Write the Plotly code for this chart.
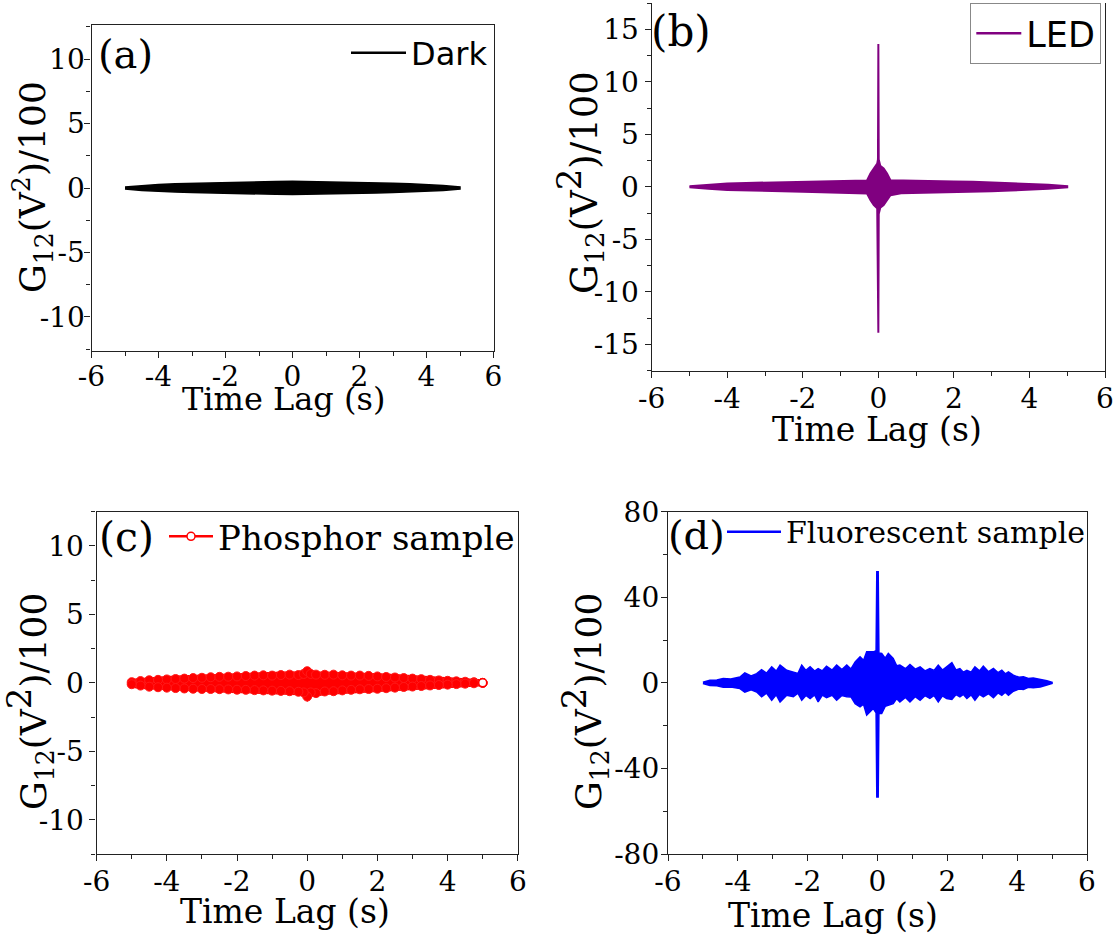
import plotly.graph_objects as go

W, H = 1116, 938

# ---------------- data ----------------
# (a) Dark : envelope of the correlation signal
time_a = [-5, -4.5, -4, -3.5, -3, -2.5, -2, -1.5, -1, -0.5, 0, 0.5, 1, 1.5, 2, 2.5, 3, 3.5, 4, 4.5, 5]
dark_upper = [0.08, 0.2, 0.27, 0.32, 0.36, 0.39, 0.42, 0.45, 0.48, 0.5, 0.52, 0.5, 0.48, 0.45, 0.42, 0.39, 0.36, 0.32, 0.27, 0.2, 0.08]
dark_lower = [-0.08, -0.19, -0.26, -0.31, -0.35, -0.38, -0.41, -0.44, -0.47, -0.49, -0.51, -0.49, -0.47, -0.44, -0.41, -0.38, -0.35, -0.31, -0.26, -0.19, -0.08]

# (b) LED
time_b = [-5, -4.5, -4, -3.5, -3, -2.5, -2, -1.5, -1, -0.6, -0.3, -0.21, -0.12, -0.03, -0.01, 0, 0.01, 0.05, 0.14, 0.23, 0.32, 0.6, 1, 1.5, 2, 2.5, 3, 3.5, 4, 4.5, 5]
led_upper = [0.05, 0.2, 0.3, 0.36, 0.4, 0.45, 0.48, 0.5, 0.55, 0.58, 0.6, 1.27, 1.75, 2.2, 2.6, 13.6, 2.6, 2.0, 1.75, 1.27, 0.63, 0.6, 0.58, 0.55, 0.5, 0.48, 0.42, 0.38, 0.3, 0.2, 0.05]
led_lower = [-0.05, -0.2, -0.3, -0.36, -0.4, -0.45, -0.48, -0.52, -0.55, -0.6, -0.65, -1.27, -1.74, -2.06, -2.6, -13.9, -2.6, -2.0, -1.74, -1.27, -0.8, -0.62, -0.58, -0.55, -0.5, -0.46, -0.42, -0.36, -0.3, -0.2, -0.05]

# (c) Phosphor sample (edge points of the scatter cloud)
time_c = [-5, -4.75, -4.5, -4.25, -4, -3.75, -3.5, -3.25, -3, -2.75, -2.5, -2.25, -2, -1.75, -1.5, -1.25, -1, -0.75, -0.5, -0.25, -0.1, 0,
          0.1, 0.25, 0.5, 0.75, 1, 1.25, 1.5, 1.75, 2, 2.25, 2.5, 2.75, 3, 3.25, 3.5, 3.75, 4, 4.25, 4.5, 4.75, 5]
phos_upper = [0.05, 0.13, 0.19, 0.22, 0.25, 0.28, 0.31, 0.35, 0.37, 0.41, 0.44, 0.45, 0.47, 0.5, 0.53, 0.55, 0.53, 0.57, 0.6, 0.57, 0.65, 0.85,
              0.65, 0.6, 0.59, 0.6, 0.55, 0.53, 0.53, 0.51, 0.47, 0.43, 0.39, 0.35, 0.31, 0.27, 0.22, 0.18, 0.15, 0.11, 0.08, 0.05, 0.0]
phos_lower = [-0.1, -0.2, -0.28, -0.32, -0.35, -0.38, -0.41, -0.43, -0.45, -0.45, -0.46, -0.48, -0.5, -0.51, -0.53, -0.55, -0.57, -0.59, -0.61, -0.65, -0.7, -1.0,
              -0.7, -0.75, -0.63, -0.61, -0.55, -0.51, -0.47, -0.45, -0.43, -0.39, -0.35, -0.3, -0.27, -0.23, -0.19, -0.16, -0.13, -0.09, -0.06, -0.03, 0.0]

# (d) Fluorescent sample
time_d = [-5.0, -4.8, -4.6, -4.42, -4.2, -3.94, -3.8, -3.62, -3.46, -3.32, -3.18, -3.03, -2.9, -2.79, -2.6, -2.41, -2.28, -2.17, -2.05, -1.93,
          -1.8, -1.7, -1.58, -1.46, -1.3, -1.17, -1.02, -0.88, -0.76, -0.64, -0.5, -0.4, -0.31, -0.12, -0.04, -0.02, 0.02, 0.04, 0.12, 0.22,
          0.31, 0.45, 0.55, 0.64, 0.8, 0.93, 1.08, 1.22, 1.36, 1.5, 1.62, 1.74, 1.86, 1.98, 2.13, 2.25, 2.36, 2.46, 2.56, 2.68,
          2.79, 2.92, 3.03, 3.18, 3.32, 3.45, 3.56, 3.66, 3.75, 3.89, 4.05, 4.18, 4.32, 4.46, 4.66, 4.85, 5.0]
fluo_upper = [0.3, 1.2, 1.3, 2.0, 1.8, 2.7, 4.7, 3.2, 4.3, 6.2, 4.5, 7.5, 5.5, 8.3, 5.9, 5.1, 4.4, 8.3, 5.8, 7.5,
              5.5, 6.7, 5.6, 7.8, 6.0, 8.3, 6.2, 8.3, 6.5, 9.8, 12.2, 10.5, 14.5, 14.5, 15.0, 51.9, 51.9, 14.0, 13.7, 11.5,
              13.7, 11.4, 8.0, 8.3, 6.6, 8.6, 6.4, 7.5, 5.6, 6.7, 5.8, 8.3, 6.0, 7.5, 9.4, 6.0, 6.7, 5.0, 5.9, 5.0,
              7.5, 5.6, 7.8, 5.2, 6.7, 4.8, 5.9, 4.2, 5.1, 3.6, 2.6, 2.8, 2.0, 2.3, 1.7, 1.0, 0.3]
fluo_lower = [-0.3, -1.2, -1.4, -2.0, -1.9, -2.7, -4.3, -3.3, -4.3, -6.5, -4.8, -8.1, -5.6, -8.9, -5.8, -6.5, -4.8, -8.1, -5.9, -7.3,
              -5.6, -8.9, -5.7, -6.9, -5.8, -8.1, -5.9, -6.5, -6.6, -9.7, -11.2, -10.0, -15.1, -12.0, -14.0, -53.3, -53.3, -14.3, -14.3, -11.0,
              -10.4, -9.7, -7.4, -8.9, -6.8, -8.9, -6.5, -8.1, -6.0, -7.3, -5.9, -8.9, -6.1, -7.3, -7.8, -5.5, -6.5, -5.4, -7.3, -5.6,
              -8.1, -5.4, -6.5, -5.0, -6.9, -4.7, -5.8, -4.4, -5.8, -3.9, -2.9, -3.1, -2.1, -2.3, -1.9, -1.0, -0.3]

# tick labels
x_tick_vals = [-6, -4, -2, 0, 2, 4, 6]
x_tick_text = ['-6', '-4', '-2', '0', '2', '4', '6']
y_tick_vals_ac = [-10, -5, 0, 5, 10]
y_tick_text_ac = ['-10', '-5', '0', '5', '10']
y_tick_vals_b = [-15, -10, -5, 0, 5, 10, 15]
y_tick_text_b = ['-15', '-10', '-5', '0', '5', '10', '15']
y_tick_vals_d = [-80, -40, 0, 40, 80]
y_tick_text_d = ['-80', '-40', '0', '40', '80']

series_names = ['Dark', 'LED', 'Phosphor sample', 'Fluorescent sample']
panel_labels = ['(a)', '(b)', '(c)', '(d)']

# ---------------- layout geometry (pixels) ----------------
frames = {  # left, right, top, bottom
    'a': (91.5, 493.5, 25, 351),
    'b': (651.7, 1105, 3, 370.5),
    'c': (96.6, 517.8, 511.7, 854),
    'd': (668, 1087, 511.7, 854),
}


def dx(l, r):
    return [l / W, r / W]


def dy(t, b):
    return [1 - b / H, 1 - t / H]


def px(x):
    return x / W


def py(y):
    return 1 - y / H


AX = '#222222'
SERIF = 'DejaVu Serif'
SANS = 'DejaVu Sans'
TICK_SIZE = 28


def band(x, up, lo):
    return list(x) + list(x)[::-1], list(up) + list(lo)[::-1]


fig = go.Figure()

# (a)
bx, by = band(time_a, dark_upper, dark_lower)
fig.add_trace(go.Scatter(x=bx, y=by, mode='lines', fill='toself', fillcolor='black',
                         line=dict(color='black', width=1.5), xaxis='x', yaxis='y',
                         showlegend=False, hoverinfo='skip'))
fig.add_trace(go.Scatter(x=[None], y=[None], mode='lines', name=series_names[0],
                         line=dict(color='black', width=2.5), xaxis='x', yaxis='y', legend='legend'))

# (b)
bx, by = band(time_b, led_upper, led_lower)
fig.add_trace(go.Scatter(x=bx, y=by, mode='lines', fill='toself', fillcolor='#800080',
                         line=dict(color='#800080', width=2), xaxis='x2', yaxis='y2',
                         showlegend=False, hoverinfo='skip'))
fig.add_trace(go.Scatter(x=[None], y=[None], mode='lines', name=series_names[1],
                         line=dict(color='#800080', width=2.5), xaxis='x2', yaxis='y2', legend='legend2'))

# (c)
bx, by = band(time_c, phos_upper, phos_lower)
fig.add_trace(go.Scatter(x=bx, y=by, mode='lines+markers', fill='toself', fillcolor='#FF0000',
                         line=dict(color='#FF0000', width=7),
                         marker=dict(symbol='circle', size=9, color='#FF0000', line=dict(color='#FF1a1a', width=1)),
                         xaxis='x3', yaxis='y3', showlegend=False, hoverinfo='skip'))
fig.add_trace(go.Scatter(x=[time_c[-1]], y=[phos_upper[-1]], mode='markers',
                         marker=dict(symbol='circle', size=8, color='white', line=dict(color='#FF0000', width=1.5)),
                         xaxis='x3', yaxis='y3', showlegend=False, hoverinfo='skip'))
fig.add_trace(go.Scatter(x=[None], y=[None], mode='lines+markers', name=series_names[2],
                         line=dict(color='#FF0000', width=2.5),
                         marker=dict(symbol='circle', size=8, color='white', line=dict(color='#FF0000', width=1.5)),
                         xaxis='x3', yaxis='y3', legend='legend3'))

# (d)
bx, by = band(time_d, fluo_upper, fluo_lower)
fig.add_trace(go.Scatter(x=bx, y=by, mode='lines', fill='toself', fillcolor='#0000FF',
                         line=dict(color='#0000FF', width=1.5), xaxis='x4', yaxis='y4',
                         showlegend=False, hoverinfo='skip'))
fig.add_trace(go.Scatter(x=[None], y=[None], mode='lines', name=series_names[3],
                         line=dict(color='#0000FF', width=2.5), xaxis='x4', yaxis='y4', legend='legend4'))


def xaxis(key, anchor, mirror=True, standoff=-4):
    l, r, t, b = frames[key]
    return dict(domain=dx(l, r), anchor=anchor, range=[-6, 6], tickmode='array',
                tickvals=x_tick_vals, ticktext=x_tick_text, ticks='outside', ticklen=6,
                tickwidth=1.3, tickcolor=AX, showline=True, linecolor=AX, linewidth=1.3,
                mirror=mirror, showgrid=False, zeroline=False, automargin=False,
                ticklabelstandoff=standoff,
                tickfont=dict(family=SERIF, size=TICK_SIZE, color='black'),
                minor=dict(tick0=0, dtick=1, ticks='outside', ticklen=4, tickwidth=1.3,
                           tickcolor=AX, showgrid=False))


def yaxis(key, anchor, rng, vals, text, minor_dtick, standoff=0):
    l, r, t, b = frames[key]
    return dict(domain=dy(t, b), anchor=anchor, range=rng, tickmode='array',
                tickvals=vals, ticktext=text, ticks='outside', ticklen=6,
                tickwidth=1.3, tickcolor=AX, showline=True, linecolor=AX, linewidth=1.3,
                mirror=True, showgrid=False, zeroline=False, automargin=False,
                ticklabelstandoff=standoff,
                tickfont=dict(family=SERIF, size=TICK_SIZE, color='black'),
                minor=dict(tick0=0, dtick=minor_dtick, ticks='outside', ticklen=4, tickwidth=1.3,
                           tickcolor=AX, showgrid=False))


ytitle_a = 'G<sub>12</sub>(V<sup>2</sup>)/100'
ytitle_bcd = 'G<sub>12</sub>(V<sup><span style="font-size:34px">2</span></sup>)/100'
xtitle = 'Time Lag (s)'

annotations = []
# panel labels
for text, (cx, cy, fs) in zip(panel_labels, [(125.6, 54, 40), (681, 31, 42), (126, 537, 41), (696.5, 535, 40)]):
    annotations.append(dict(text=text, x=px(cx), y=py(cy), xref='paper', yref='paper',
                            xanchor='center', yanchor='middle', showarrow=False,
                            font=dict(family=SERIF, size=fs, color='black')))
# x titles
for (cx, cy, fs) in [(283.7, 399, 32), (876.5, 429, 33), (284.7, 911, 33), (832.8, 915, 33)]:
    annotations.append(dict(text=xtitle, x=px(cx), y=py(cy), xref='paper', yref='paper',
                            xanchor='center', yanchor='middle', showarrow=False,
                            font=dict(family=SERIF, size=fs, color='black')))
# y titles
for text, (cx, cy, fs) in zip([ytitle_a, ytitle_bcd, ytitle_bcd, ytitle_bcd],
                              [(33, 187, 36), (580, 183, 37), (29, 702, 36), (584, 702, 36)]):
    annotations.append(dict(text=text, x=px(cx), y=py(cy), xref='paper', yref='paper',
                            xanchor='center', yanchor='middle', showarrow=False, textangle=-90,
                            font=dict(family=SERIF, size=fs, color='black')))

fig.update_layout(
    width=W, height=H, autosize=False,
    margin=dict(l=0, r=0, t=0, b=0, pad=0, autoexpand=False),
    paper_bgcolor='white', plot_bgcolor='white',
    xaxis=xaxis('a', 'y', standoff=-6),
    yaxis=yaxis('a', 'x', [-12.64, 12.64], y_tick_vals_ac, y_tick_text_ac, 2.5, standoff=-6),
    xaxis2=xaxis('b', 'y2', mirror=False, standoff=-3),
    yaxis2=yaxis('b', 'x2', [-17.5, 17.5], y_tick_vals_b, y_tick_text_b, 2.5),
    xaxis3=xaxis('c', 'y3', standoff=-4),
    yaxis3=yaxis('c', 'x3', [-12.5, 12.5], y_tick_vals_ac, y_tick_text_ac, 2.5),
    xaxis4=xaxis('d', 'y4', standoff=-4),
    yaxis4=yaxis('d', 'x4', [-80, 80], y_tick_vals_d, y_tick_text_d, 20, standoff=-4),
    legend=dict(x=px(346), y=py(53), xanchor='left', yanchor='middle', bgcolor='rgba(0,0,0,0)',
                borderwidth=0, itemwidth=55, font=dict(family=SANS, size=32, color='black')),
    legend2=dict(x=px(1101.3), y=py(3), xanchor='right', yanchor='top', bgcolor='white',
                 bordercolor='#888888', borderwidth=1, itemwidth=45,
                 font=dict(family=SANS, size=35, color='black')),
    legend3=dict(x=px(164), y=py(536.7), xanchor='left', yanchor='middle', bgcolor='rgba(0,0,0,0)',
                 borderwidth=0, itemwidth=44, font=dict(family=SERIF, size=34, color='black')),
    legend4=dict(x=px(722), y=py(531.7), xanchor='left', yanchor='middle', bgcolor='rgba(0,0,0,0)',
                 borderwidth=0, itemwidth=54, font=dict(family=SERIF, size=30, color='black')),
    annotations=annotations,
    showlegend=True,
)

fig.write_html("out.html")
